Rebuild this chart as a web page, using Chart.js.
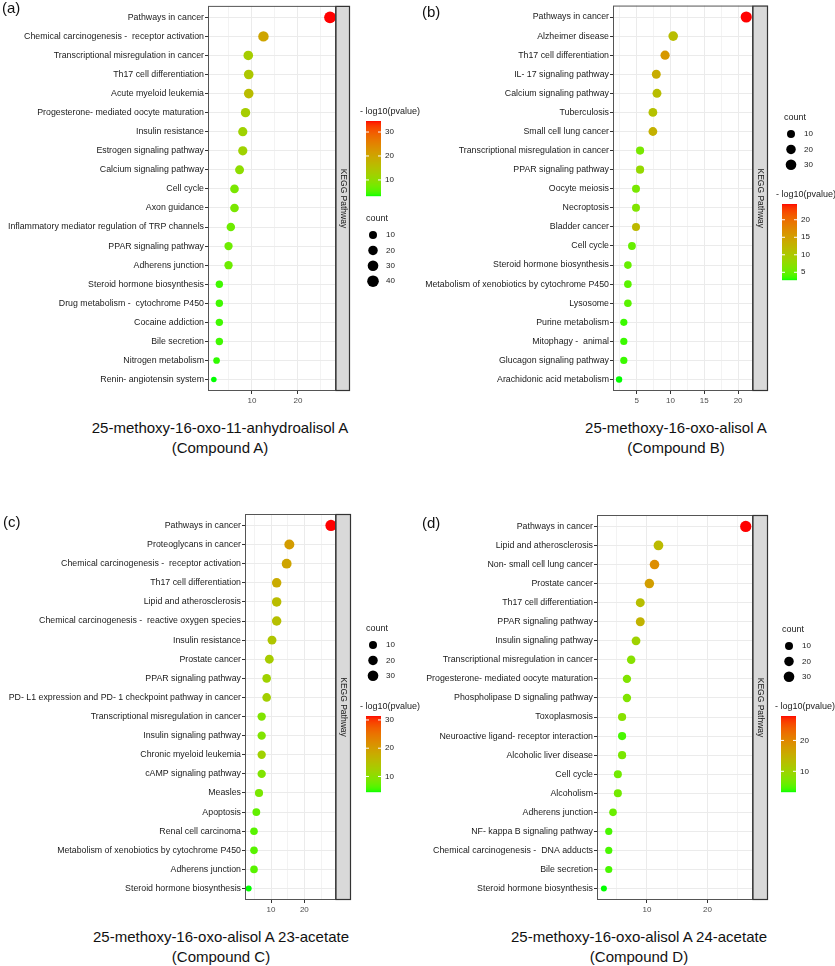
<!DOCTYPE html>
<html>
<head>
<meta charset="utf-8">
<script src="https://cdn.jsdelivr.net/npm/chart.js@4.4.1/dist/chart.umd.min.js"></script>
<style>
  body { margin: 0; background: #fff; font-family: "Liberation Sans", Arial, sans-serif; }
  #page { position: relative; width: 835px; height: 966px; overflow: hidden; }
  canvas { position: absolute; }
  .tag { position: absolute; font-size: 15px; line-height: 17px; color: #111; }
  .cap { position: absolute; font-size: 15px; line-height: 20px; color: #111; text-align: center;
         white-space: nowrap; transform: translateX(-50%); }
</style>
</head>
<body>
<div id="page">
  <canvas id="chartA" width="432" height="410" style="left:0;top:0"></canvas>
  <canvas id="chartB" width="418" height="410" style="left:417px;top:0"></canvas>
  <canvas id="chartC" width="432" height="415" style="left:0;top:500px"></canvas>
  <canvas id="chartD" width="418" height="415" style="left:417px;top:500px"></canvas>

  <div class="tag" style="left:2px;top:-1px">(a)</div>
  <div class="tag" style="left:422px;top:3px">(b)</div>
  <div class="tag" style="left:3px;top:513px">(c)</div>
  <div class="tag" style="left:422px;top:514px">(d)</div>

  <div class="cap" style="left:220px;top:418px">25-methoxy-16-oxo-11-anhydroalisol A<br>(Compound A)</div>
  <div class="cap" style="left:676px;top:418px">25-methoxy-16-oxo-alisol A<br>(Compound B)</div>
  <div class="cap" style="left:221px;top:927px">25-methoxy-16-oxo-alisol A 23-acetate<br>(Compound C)</div>
  <div class="cap" style="left:639px;top:927px">25-methoxy-16-oxo-alisol A 24-acetate<br>(Compound D)</div>
</div>

<script>
// ---- data (top to bottom order) ----
const pathwaysA = ["Pathways in cancer", "Chemical carcinogenesis -  receptor activation",
  "Transcriptional misregulation in cancer", "Th17 cell differentiation", "Acute myeloid leukemia",
  "Progesterone- mediated oocyte maturation", "Insulin resistance", "Estrogen signaling pathway",
  "Calcium signaling pathway", "Cell cycle", "Axon guidance",
  "Inflammatory mediator regulation of TRP channels", "PPAR signaling pathway", "Adherens junction",
  "Steroid hormone biosynthesis", "Drug metabolism -  cytochrome P450", "Cocaine addiction",
  "Bile secretion", "Nitrogen metabolism", "Renin- angiotensin system"];
const ratioA = [27.0, 12.5, 9.2, 9.3, 9.3, 8.6, 8.0, 8.0, 7.3, 6.2, 6.2, 5.4, 4.9, 4.9, 2.9, 2.9, 2.9, 2.9, 2.3, 1.7];
const countA = [42, 28, 21, 21, 21, 19, 18, 18, 16, 14, 14, 13, 12, 12, 7, 7, 7, 7, 4, 1];
const logpA  = [34.6, 20, 13, 14, 16, 13, 12, 12, 10, 8, 8, 7, 7, 7, 4.5, 4.5, 4.5, 4.5, 4, 3.3];

const pathwaysB = ["Pathways in cancer", "Alzheimer disease", "Th17 cell differentiation",
  "IL- 17 signaling pathway", "Calcium signaling pathway", "Tuberculosis", "Small cell lung cancer",
  "Transcriptional misregulation in cancer", "PPAR signaling pathway", "Oocyte meiosis", "Necroptosis",
  "Bladder cancer", "Cell cycle", "Steroid hormone biosynthesis",
  "Metabolism of xenobiotics by cytochrome P450", "Lysosome", "Purine metabolism",
  "Mitophagy -  animal", "Glucagon signaling pathway", "Arachidonic acid metabolism"];
const ratioB = [21.2, 10.4, 9.2, 7.9, 8.0, 7.4, 7.4, 5.5, 5.5, 4.9, 4.9, 4.9, 4.3, 3.7, 3.7, 3.7, 3.1, 3.1, 3.1, 2.4];
const countB = [35, 21, 18, 16, 16, 15, 15, 11, 11, 10, 10, 10, 9, 8, 8, 8, 6, 6, 6, 3];
const logpB  = [24.5, 11.5, 15.8, 13.5, 11.5, 11, 13, 6, 8, 6, 6.5, 12, 5, 5, 4.5, 4.5, 3.5, 3.5, 3.5, 2.8];

const pathwaysC = ["Pathways in cancer", "Proteoglycans in cancer",
  "Chemical carcinogenesis -  receptor activation", "Th17 cell differentiation",
  "Lipid and atherosclerosis", "Chemical carcinogenesis -  reactive oxygen species", "Insulin resistance",
  "Prostate cancer", "PPAR signaling pathway", "PD- L1 expression and PD- 1 checkpoint pathway in cancer",
  "Transcriptional misregulation in cancer", "Insulin signaling pathway", "Chronic myeloid leukemia",
  "cAMP signaling pathway", "Measles", "Apoptosis", "Renal cell carcinoma",
  "Metabolism of xenobiotics by cytochrome P450", "Adherens junction", "Steroid hormone biosynthesis"];
const ratioC = [28.0, 15.5, 14.7, 11.7, 11.7, 11.7, 10.3, 9.5, 8.7, 8.7, 7.2, 7.2, 7.2, 7.2, 6.4, 5.6, 4.9, 4.9, 4.9, 3.3];
const countC = [36, 24, 23, 20, 20, 20, 16, 15, 14, 14, 12, 12, 12, 12, 11, 9, 8, 8, 8, 2];
const logpC  = [31.4, 20, 19, 18, 15.5, 15, 14, 13, 12, 12.5, 9, 9, 12, 9, 8.5, 7, 6.5, 6.5, 6.5, 4.5];

const pathwaysD = ["Pathways in cancer", "Lipid and atherosclerosis", "Non- small cell lung cancer",
  "Prostate cancer", "Th17 cell differentiation", "PPAR signaling pathway", "Insulin signaling pathway",
  "Transcriptional misregulation in cancer", "Progesterone- mediated oocyte maturation",
  "Phospholipase D signaling pathway", "Toxoplasmosis", "Neuroactive ligand- receptor interaction",
  "Alcoholic liver disease", "Cell cycle", "Alcoholism", "Adherens junction",
  "NF- kappa B signaling pathway", "Chemical carcinogenesis -  DNA adducts", "Bile secretion",
  "Steroid hormone biosynthesis"];
const ratioD = [26.3, 11.9, 11.25, 10.4, 8.9, 8.9, 8.2, 7.4, 6.7, 6.7, 5.9, 5.9, 5.9, 5.2, 5.2, 4.4, 3.7, 3.7, 3.7, 2.9];
const countD = [36, 22, 21, 20, 16, 16, 15, 13, 12, 12, 11, 11, 11, 10, 10, 8, 6, 6, 6, 2];
const logpD  = [27.9, 13.6, 19.3, 17.3, 13, 14.5, 10.2, 8, 7.5, 7.5, 8, 4.5, 7, 6.5, 6.5, 6, 4.5, 4.5, 4.5, 3.3];

const stripLabel = "KEGG Pathway";

// point size from count
const radiusFor = c => 2.2 + 0.57 * Math.sqrt(c);

// green -> red gradient interpolated in Lab (like ggplot)
function toLin(c) { c /= 255; return c <= 0.04045 ? c / 12.92 : Math.pow((c + 0.055) / 1.055, 2.4); }
function toSrgb(c) {
  c = c <= 0.0031308 ? 12.92 * c : 1.055 * Math.pow(c, 1 / 2.4) - 0.055;
  return Math.round(Math.min(1, Math.max(0, c)) * 255);
}
function rgbToLab(r, g, b) {
  r = toLin(r); g = toLin(g); b = toLin(b);
  let x = (0.4124 * r + 0.3576 * g + 0.1805 * b) / 0.95047;
  let y = 0.2126 * r + 0.7152 * g + 0.0722 * b;
  let z = (0.0193 * r + 0.1192 * g + 0.9505 * b) / 1.08883;
  const f = t => t > 0.008856 ? Math.cbrt(t) : 7.787 * t + 16 / 116;
  x = f(x); y = f(y); z = f(z);
  return [116 * y - 16, 500 * (x - y), 200 * (y - z)];
}
function labToRgb(L, a, b) {
  const fy = (L + 16) / 116, fx = fy + a / 500, fz = fy - b / 200;
  const g = t => t > 0.206893 ? t * t * t : (t - 16 / 116) / 7.787;
  const x = 0.95047 * g(fx), y = g(fy), z = 1.08883 * g(fz);
  const r = 3.2406 * x - 1.5372 * y - 0.4986 * z;
  const gg = -0.9689 * x + 1.8758 * y + 0.0415 * z;
  const bb = 0.0557 * x - 0.2040 * y + 1.0570 * z;
  return 'rgb(' + toSrgb(r) + ',' + toSrgb(gg) + ',' + toSrgb(bb) + ')';
}
const LOW = rgbToLab(0, 255, 0), HIGH = rgbToLab(255, 0, 0);
function gradColor(v, min, max) {
  const t = (v - min) / (max - min);
  return labToRgb(...LOW.map((l, i) => l + (HIGH[i] - l) * t));
}

// layout of the four panels (page coordinates)
const panels = [
  { id: 'chartA', left: 0, top: 0, labels: pathwaysA, ratio: ratioA, count: countA, logp: logpA,
    area: { l: 208, r: 336, t: 4, b: 391 }, xMin: 0.43, xMax: 28.3, xStep: 5, xMajor: 10, strip: 14,
    sizeLeg: { x: 366, y: 219 }, colLeg: { x: 360, y: 112, h: 75 }, cStep: 10 },
  { id: 'chartB', left: 417, top: 0, labels: pathwaysB, ratio: ratioB, count: countB, logp: logpB,
    area: { l: 613, r: 753, t: 4, b: 391 }, xMin: 1.5, xMax: 22.2, xStep: 2.5, xMajor: 5, strip: 15,
    sizeLeg: { x: 784, y: 118 }, colLeg: { x: 776, y: 195, h: 76 }, cStep: 5 },
  { id: 'chartC', left: 0, top: 500, labels: pathwaysC, ratio: ratioC, count: countC, logp: logpC,
    area: { l: 245, r: 336, t: 514, b: 900 }, xMin: 2.2, xMax: 29.5, xStep: 5, xMajor: 10, strip: 15,
    sizeLeg: { x: 366, y: 629 }, colLeg: { x: 360, y: 707, h: 76 }, cStep: 10 },
  { id: 'chartD', left: 417, top: 500, labels: pathwaysD, ratio: ratioD, count: countD, logp: logpD,
    area: { l: 597, r: 753, t: 515, b: 900 }, xMin: 1.76, xMax: 27.5, xStep: 5, xMajor: 10, strip: 15,
    sizeLeg: { x: 782, y: 630 }, colLeg: { x: 775, y: 707, h: 76 }, cStep: 10 }
];

function drawDecor(chart, p, lo, hi) {
  const ctx = chart.ctx, a = chart.chartArea;
  const ox = p.left, oy = p.top;
  ctx.save();
  // panel border
  ctx.strokeStyle = '#555';
  ctx.lineWidth = 1;
  ctx.strokeRect(a.left + 0.5, a.top + 0.5, a.right - a.left - 1, a.bottom - a.top - 1);
  // facet strip
  ctx.fillStyle = '#D9D9D9';
  ctx.fillRect(a.right, a.top, p.strip, a.bottom - a.top);
  ctx.strokeStyle = '#333';
  ctx.lineWidth = 1.2;
  ctx.strokeRect(a.right, a.top + 0.5, p.strip - 0.5, a.bottom - a.top - 1);
  ctx.save();
  ctx.translate(a.right + p.strip / 2, (a.top + a.bottom) / 2);
  ctx.rotate(Math.PI / 2);
  ctx.fillStyle = '#1a1a1a';
  ctx.font = '8.5px "Liberation Sans"';
  ctx.textAlign = 'center';
  ctx.textBaseline = 'middle';
  ctx.fillText(stripLabel, 0, 0);
  ctx.restore();

  // size legend
  const sl = p.sizeLeg;
  ctx.fillStyle = '#1a1a1a';
  ctx.font = '9px "Liberation Sans"';
  ctx.textAlign = 'left';
  ctx.textBaseline = 'middle';
  ctx.fillText('count', sl.x - ox, sl.y - oy);
  const cMax = Math.max(...p.count);
  let k = 0;
  for (let c = 10; c <= cMax; c += 10, k++) {
    const cy = sl.y - oy + 16 + k * 15.4;
    ctx.fillStyle = '#000';
    ctx.beginPath();
    ctx.arc(sl.x - ox + 7, cy, radiusFor(c), 0, Math.PI * 2);
    ctx.fill();
    ctx.fillStyle = '#1a1a1a';
    ctx.font = '8px "Liberation Sans"';
    ctx.fillText(String(c), sl.x - ox + 20, cy);
  }

  // colour bar legend
  const cl = p.colLeg;
  ctx.font = '9px "Liberation Sans"';
  ctx.fillText('- log10(pvalue)', cl.x - ox, cl.y - oy);
  const bx = cl.x - ox + 6, by = cl.y - oy + 9, bw = 15, bh = cl.h;
  for (let i = 0; i < bh; i++) {
    ctx.fillStyle = gradColor(hi - (i + 0.5) / bh * (hi - lo), lo, hi);
    ctx.fillRect(bx, by + i, bw, 1.2);
  }
  ctx.font = '8px "Liberation Sans"';
  for (let v = Math.ceil(lo / p.cStep) * p.cStep; v <= hi; v += p.cStep) {
    const ty = by + (hi - v) / (hi - lo) * bh;
    ctx.strokeStyle = '#fff';
    ctx.lineWidth = 1;
    ctx.beginPath();
    ctx.moveTo(bx, ty); ctx.lineTo(bx + 3, ty);
    ctx.moveTo(bx + bw - 3, ty); ctx.lineTo(bx + bw, ty);
    ctx.stroke();
    ctx.fillStyle = '#1a1a1a';
    ctx.fillText(String(v), bx + bw + 4, ty);
  }
  ctx.restore();
}

panels.forEach(p => {
  const cv = document.getElementById(p.id);
  const W = cv.width, H = cv.height;
  const n = p.labels.length;
  const lo = Math.min(...p.logp), hi = Math.max(...p.logp);
  const ar = { l: p.area.l - p.left, r: p.area.r - p.left, t: p.area.t - p.top, b: p.area.b - p.top };
  const xTicks = [];
  for (let v = Math.ceil(p.xMin / p.xStep) * p.xStep; v <= p.xMax; v += p.xStep) xTicks.push({ value: v });
  const isMajor = v => Math.abs(v / p.xMajor - Math.round(v / p.xMajor)) < 1e-6;

  new Chart(cv, {
    type: 'scatter',
    data: {
      datasets: [{
        data: p.ratio.map((v, i) => ({ x: v, y: i })),
        pointRadius: p.count.map(radiusFor),
        pointBackgroundColor: p.logp.map(v => gradColor(v, lo, hi)),
        pointBorderWidth: 0,
        clip: false
      }]
    },
    options: {
      responsive: false,
      animation: false,
      events: [],
      layout: { padding: { left: 0, top: ar.t, right: W - ar.r, bottom: 0 } },
      plugins: { legend: { display: false }, tooltip: { enabled: false } },
      scales: {
        x: {
          type: 'linear', min: p.xMin, max: p.xMax,
          afterBuildTicks: s => { s.ticks = xTicks.map(t => ({ value: t.value })); },
          afterFit: s => { s.height = H - ar.b; s.paddingLeft = 0; s.paddingRight = 0; },
          border: { display: false },
          grid: {
            color: '#EBEBEB',
            lineWidth: c => (c.tick && isMajor(c.tick.value)) ? 1 : 0.6,
            tickLength: 3,
            tickColor: c => (c.tick && isMajor(c.tick.value)) ? '#333' : 'rgba(0,0,0,0)'
          },
          ticks: {
            autoSkip: false, maxRotation: 0, padding: 1.5,
            color: '#4D4D4D', font: { family: 'Liberation Sans', size: 8 },
            callback: v => isMajor(v) ? String(Math.round(v)) : ''
          }
        },
        y: {
          type: 'linear', reverse: true, min: -0.6, max: n - 1 + 0.6,
          afterBuildTicks: s => { s.ticks = p.labels.map((_, i) => ({ value: i })); },
          afterFit: s => { s.width = ar.l; s.paddingTop = 0; s.paddingBottom = 0; },
          border: { display: false },
          grid: { color: '#EBEBEB', lineWidth: 1, tickLength: 3, tickColor: '#333' },
          ticks: {
            autoSkip: false, padding: 1,
            color: '#1a1a1a', font: { family: 'Liberation Sans', size: 8.8 },
            callback: v => p.labels[v]
          }
        }
      }
    },
    plugins: [{ id: 'decor', afterDraw: c => drawDecor(c, p, lo, hi) }]
  });
});
</script>
</body>
</html>
